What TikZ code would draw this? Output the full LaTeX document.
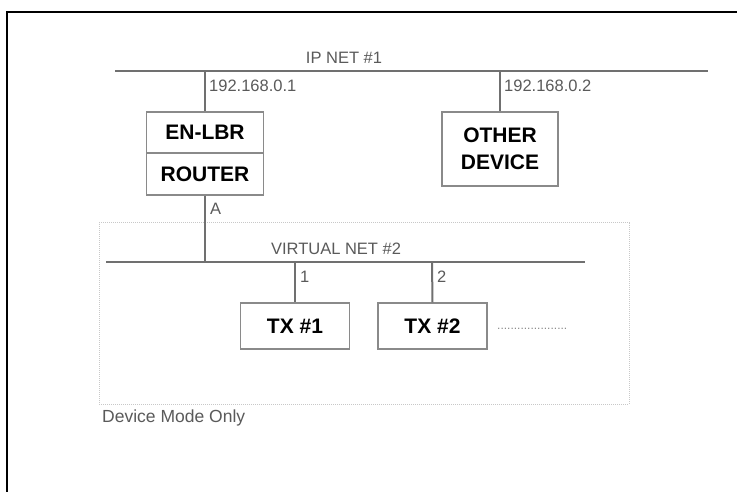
\documentclass[tikz,border=0pt]{standalone}
\usepackage{fontspec}
\setmainfont{Liberation Sans}
\definecolor{netgrey}{HTML}{707070}
\definecolor{boxgrey}{HTML}{8A8A8A}
\definecolor{txtgrey}{HTML}{5A5A5A}
\definecolor{dashgrey}{HTML}{C8C8C8}
\tikzset{
  devbox/.style={draw=boxgrey, line width=1.3pt, fill=white, inner sep=0pt, font=\fontsize{21}{22}\selectfont\bfseries, text=black, align=center},
  netline/.style={draw=netgrey, line width=2.6pt},
  drop/.style={draw=netgrey, line width=2pt},
  lbl/.style={inner sep=0pt, font=\fontsize{16.5}{18}\selectfont, text=txtgrey},
}
\begin{document}
\begin{tikzpicture}[x=1pt,y=-1pt]
\useasboundingbox (0,0) rectangle (737,492);
\fill[white] (0,0) rectangle (737,492);
% frame
\draw[line width=2.6pt, black] (7,492) -- (7,12) -- (737,12);
% device-mode area
\node[draw=dashgrey, line width=1pt, densely dotted, minimum width=530pt, minimum height=181pt, inner sep=0pt] (area) at (364,313.5) {};
% nets
\coordinate (ipL) at (115,71);
\coordinate (ipR) at (708,71);
\coordinate (vnL) at (106,262);
\coordinate (vnR) at (585,262);
\coordinate (ip1) at (205,71);
\coordinate (ip2) at (500,71);
\coordinate (vnA) at (205,262);
\coordinate (vn1) at (295,262);
\coordinate (vn2) at (432,262);
\draw[netline] (ipL) -- (ipR);
\draw[netline] (vnL) -- (vnR);
% boxes
\node[devbox, minimum width=117pt, minimum height=41pt] (enlbr) at (205,132.5) {EN-LBR};
\node[devbox, minimum width=117pt, minimum height=42pt] (router) at (205,174) {ROUTER};
\node[devbox, minimum width=116pt, minimum height=74pt] (other) at (500,149) {OTHER\\[5pt]DEVICE};
\node[devbox, minimum width=109pt, minimum height=46pt] (tx1) at (295,326) {TX \#1};
\node[devbox, minimum width=109pt, minimum height=46pt] (tx2) at (432.5,326) {TX \#2};
% drops
\draw[drop] (ip1) -- (enlbr.north);
\draw[drop] (ip2) -- (other.north);
\draw[drop] (router.south) -- (vnA);
\draw[drop] (vn1) -- (tx1.north);
\draw[drop] (vn2) -- (tx2.north);
% labels
\node[lbl] (lipnet) at (344,58) {IP NET \#1};
\node[lbl, anchor=west] (lip1) at (209,86) {192.168.0.1};
\node[lbl, anchor=west] (lip2) at (504,86) {192.168.0.2};
\node[lbl, anchor=west] (la) at (210,209) {A};
\node[lbl] (lvn) at (336,249) {VIRTUAL NET \#2};
\node[lbl, anchor=west] (l1) at (300,277) {1};
\node[lbl, anchor=west] (l2) at (437,277) {2};
\node[lbl, anchor=west, font=\fontsize{17.5}{19}\selectfont] (lmode) at (102,418) {Device Mode Only};
\node[lbl, anchor=west, font=\fontsize{12}{12}\selectfont, text=boxgrey] (ldots) at (497,329) {.....................};
\end{tikzpicture}
\end{document}
